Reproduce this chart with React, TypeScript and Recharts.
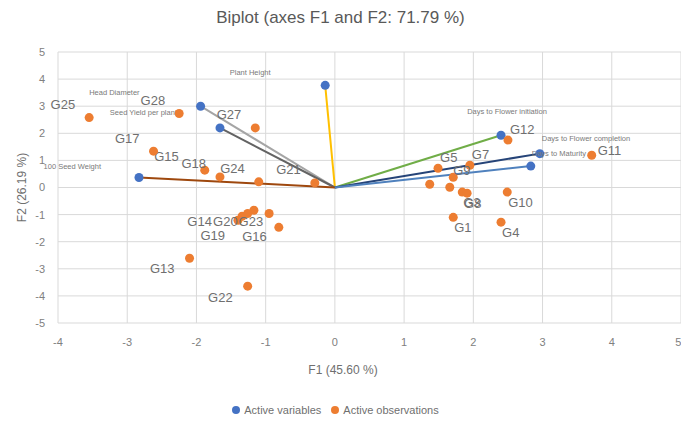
import { CartesianGrid, Label, Legend, ReferenceLine, Scatter, ScatterChart, XAxis, YAxis } from "recharts";

// active variables (F1, F2 coordinates)
const varNames = [
  "Plant Height",
  "Head Diameter",
  "Seed Yield per plant",
  "100 Seed Weight",
  "Days to Flower initiation",
  "Days to Flower completion",
  "Days to Maturity",
];
const varF1 = [-0.14, -1.94, -1.66, -2.83, 2.4, 2.96, 2.83];
const varF2 = [3.77, 3.0, 2.2, 0.37, 1.93, 1.25, 0.79];

// active observations
const obsNames = [
  "G1", "G2", "G3", "G4", "G5", "G6", "G7", "G8", "G9", "G10",
  "G11", "G12", "G13", "G14", "G15", "G16", "G17", "G18", "G19", "G20",
  "G21", "G22", "G23", "G24", "G25", "G26", "G27", "G28",
];
const obsF1 = [
  1.71, 1.37, 1.84, 2.4, 1.49, 1.66, 1.95, 1.91, 1.71, 2.49,
  3.71, 2.5, -2.1, -1.17, -1.88, -1.34, -2.62, -1.66, -1.4, -1.26,
  -0.29, -1.26, -0.95, -1.1, -3.55, -0.81, -1.15, -2.25,
];
const obsF2 = [
  -1.1, 0.12, -0.17, -1.28, 0.71, 0.01, 0.82, -0.21, 0.38, -0.17,
  1.19, 1.75, -2.61, -0.84, 0.64, -1.06, 1.34, 0.39, -1.21, -0.96,
  0.17, -3.64, -0.96, 0.21, 2.58, -1.47, 2.2, 2.73,
];

const xTicks = [-4, -3, -2, -1, 0, 1, 2, 3, 4, 5];
const yTicks = [-5, -4, -3, -2, -1, 0, 1, 2, 3, 4, 5];

const vectorColors = ["#FFC000", "#A5A5A5", "#636363", "#9E480E", "#70AD47", "#264478", "#4F81BD"];

const varData = varNames.map((name, i) => ({ name, x: varF1[i], y: varF2[i] }));
const obsData = obsNames.map((name, i) => ({ name, x: obsF1[i], y: obsF2[i] }));

type Place = { anchor: "start" | "middle" | "end"; dx: number; dy: number };

// label placement around the marker (pixels)
const varPlace: Record<string, Place> = {
  "Plant Height": { anchor: "middle", dx: -75, dy: -13 },
  "Head Diameter": { anchor: "end", dx: -61, dy: -14 },
  "Seed Yield per plant": { anchor: "end", dx: -43, dy: -15 },
  "100 Seed Weight": { anchor: "end", dx: -38, dy: -11 },
  "Days to Flower initiation": { anchor: "middle", dx: 6, dy: -24 },
  "Days to Flower completion": { anchor: "start", dx: 2, dy: -15 },
  "Days to Maturity": { anchor: "start", dx: 1, dy: -13 },
};

const below: Place = { anchor: "start", dx: 1, dy: 10 };
const obsPlace: Record<string, Place | null> = {
  G1: below,
  G3: below,
  G4: below,
  G8: { anchor: "start", dx: -3, dy: 10 },
  G10: below,
  G9: { anchor: "start", dx: 0, dy: -7 },
  G11: { anchor: "start", dx: 6, dy: -5 },
  G2: null,
  G6: null,
  G26: null,
  G15: { anchor: "end", dx: -26, dy: -14 },
  G13: { anchor: "end", dx: -15, dy: 10 },
  G22: { anchor: "end", dx: -15, dy: 11 },
  G19: { anchor: "end", dx: -13, dy: 15 },
  G16: { anchor: "start", dx: 0, dy: 20 },
  G14: { anchor: "end", dx: -42, dy: 11 },
  G20: { anchor: "end", dx: -10, dy: 8 },
  G23: { anchor: "end", dx: -6, dy: 8 },
};

const FONT = "'Liberation Sans', Arial, sans-serif";
const TEXT = "#6f6f6f";

function VarPoint(props: any) {
  const { cx, cy, payload } = props;
  const p = varPlace[payload.name];
  return (
    <g>
      <circle cx={cx} cy={cy} r={4.5} fill="#4472C4" />
      <text x={cx + p.dx} y={cy + p.dy} textAnchor={p.anchor} dominantBaseline="central" fontSize={7.5} fill="#7a7a7a" fontFamily={FONT}>
        {payload.name}
      </text>
    </g>
  );
}

function ObsPoint(props: any) {
  const { cx, cy, payload } = props;
  let p = obsPlace[payload.name];
  if (p === undefined) {
    p = payload.x < 0 ? { anchor: "end", dx: -14, dy: -13 } : { anchor: "start", dx: 2, dy: -11 };
  }
  return (
    <g>
      <circle cx={cx} cy={cy} r={4.5} fill="#ED7D31" />
      {p && (
        <text x={cx + p.dx} y={cy + p.dy} textAnchor={p.anchor} dominantBaseline="central" fontSize={13} fill={TEXT} fontFamily={FONT}>
          {payload.name}
        </text>
      )}
    </g>
  );
}

const renderYLabel = (props: any) => {
  const vb = props.viewBox;
  const x = vb.x + 22;
  const y = vb.y + vb.height / 2;
  return (
    <text x={x} y={y} transform={`rotate(-90 ${x} ${y})`} textAnchor="middle" dominantBaseline="central" fontSize={12} fill={TEXT} fontFamily={FONT}>
      F2 (26.19 %)
    </text>
  );
};

const renderXLabel = (props: any) => {
  const vb = props.viewBox;
  return (
    <text x={vb.x + 285} y={vb.y + 47} textAnchor="middle" dominantBaseline="central" fontSize={12} fill={TEXT} fontFamily={FONT}>
      F1 (45.60 %)
    </text>
  );
};

const legendOrder = (item: any) => (item.value === "Active variables" ? 0 : 1);

export default function App() {
  return (
    <div style={{ position: "absolute", left: 0, top: 0, width: 681, height: 431, background: "#fff", fontFamily: FONT }}>
      <div style={{ position: "absolute", left: 0, top: 8, width: 681, textAlign: "center", fontSize: 17, color: "#595959" }}>
        Biplot (axes F1 and F2: 71.79 %)
      </div>
      <ScatterChart width={681} height={431} margin={{ top: 52, right: 0, bottom: 16, left: 0 }}>
        <CartesianGrid stroke="#d9d9d9" />
        <XAxis
          type="number"
          dataKey="x"
          domain={[-4, 5]}
          ticks={xTicks}
          axisLine={false}
          tickLine={false}
          tickSize={0}
          tickMargin={15}
          height={72}
          tick={{ fill: "#808080", fontSize: 11, fontFamily: FONT }}
        >
          <Label content={renderXLabel} />
        </XAxis>
        <YAxis
          type="number"
          dataKey="y"
          domain={[-5, 5]}
          ticks={yTicks}
          axisLine={false}
          tickLine={false}
          tickSize={0}
          tickMargin={13}
          width={58}
          tick={{ fill: "#808080", fontSize: 11, fontFamily: FONT }}
        >
          <Label content={renderYLabel} />
        </YAxis>
        {varData.map((v, i) => (
          <ReferenceLine
            key={v.name}
            segment={[{ x: 0, y: 0 }, { x: v.x, y: v.y }]}
            stroke={vectorColors[i]}
            strokeWidth={2}
          />
        ))}
        <Legend
          verticalAlign="bottom"
          height={20}
          iconType="circle"
          iconSize={8}
          itemSorter={legendOrder}
          wrapperStyle={{ bottom: 11 }}
          formatter={(value) => <span style={{ color: TEXT, fontSize: 11 }}>{value}</span>}
        />
        <Scatter name="Active variables" data={varData} fill="#4472C4" shape={VarPoint} isAnimationActive={false} />
        <Scatter name="Active observations" data={obsData} fill="#ED7D31" shape={ObsPoint} isAnimationActive={false} />
      </ScatterChart>
    </div>
  );
}
